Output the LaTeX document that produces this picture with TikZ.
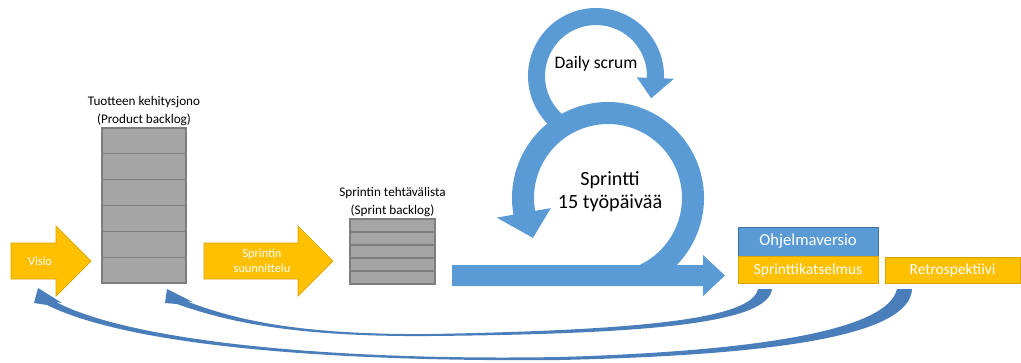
\documentclass[tikz,border=0pt]{standalone}
\usepackage{fontspec}
\setmainfont{Carlito}
\usetikzlibrary{positioning}
\usetikzlibrary{calc}
\definecolor{scrumblue}{HTML}{5B9BD5}
\definecolor{scrumblueline}{HTML}{41719C}
\definecolor{scrumyellow}{HTML}{FFC000}
\definecolor{scrumyellowline}{HTML}{D9A300}
\definecolor{backloggray}{HTML}{A5A5A5}
\definecolor{backlogline}{HTML}{7F7F7F}
\definecolor{returnblue}{HTML}{4A7EBB}
\tikzset{
  whitetext/.style={text=white, font=\fontsize{7}{8.5}\selectfont, align=center},
  lbl/.style={font=\fontsize{7.5}{10.2}\selectfont, align=center, inner sep=1pt},
  backlog/.style={draw=backlogline, fill=backloggray, line width=0.6pt, inner sep=0pt},
  resultbox/.style={line width=0.5pt, inner sep=0pt, text=white},
}

\begin{document}
\begin{tikzpicture}[x=0.02cm, y=-0.02cm]
\useasboundingbox (0,0) rectangle (1021,362);
% paluunuolet
\fill[returnblue] (758,289) .. controls (752,318) and (650,330) .. (430,334) .. controls (300,335) and (235,320) .. (186,301) -- (193,302) -- (167,289) -- (165,303) -- (177,304) .. controls (230,323) and (300,337) .. (430,336) .. controls (660,334) and (768,322) .. (772,289) -- cycle;
\fill[returnblue] (897,289) .. controls (888,330) and (760,351) .. (560,357) .. controls (330,361) and (130,341) .. (56,302) -- (62,303) -- (38,288) -- (34,303) -- (47,305) .. controls (130,346) and (330,362) .. (560,360) .. controls (780,355) and (910,335) .. (912,289) -- cycle;
% keltaiset nuolet
\filldraw[fill=scrumyellow, draw=scrumyellowline, line width=0.4pt] (11,243) -- (56,243) -- (56,226) -- (91,261) -- (56,296) -- (56,279) -- (11,279) -- cycle;
\node[whitetext] (visio) at (40,261) {Visio};
\filldraw[fill=scrumyellow, draw=scrumyellowline, line width=0.4pt] (204,243) -- (298,243) -- (298,226) -- (333,261) -- (298,296) -- (298,279) -- (204,279) -- cycle;
\node[whitetext] (suunnittelu) at (262,261) {Sprintin\\suunnittelu};
% tuotteen kehitysjono
\node[backlog, minimum width=1.68cm, minimum height=3.1cm] (pb) at (144,205.5) {};
\foreach \i in {1,...,5} {
\draw[backlogline, line width=0.6pt] (102,{128+\i*25.83}) -- (186,{128+\i*25.83});
}
\node[lbl, above=0pt of pb] (pblabel) {Tuotteen kehitysjono\\(Product backlog)};
% sprintin tehtavalista
\node[backlog, minimum width=1.7cm, minimum height=1.3cm] (sb) at (392.5,251.5) {};
\foreach \i in {1,...,4} {
\draw[backlogline, line width=0.6pt] (350,{219+\i*13}) -- (435,{219+\i*13});
}
\node[lbl, above=0pt of sb] (sblabel) {Sprintin tehtävälista\\(Sprint backlog)};
% daily scrum
\coordinate (dailyc) at (596,76);
\fill[scrumblue] ($(dailyc)+(125:68)$) arc[start angle=125, end angle=362, radius=68] -- ($(dailyc)+(362:78)$) -- ($(dailyc)+(22:59.5)$) -- ($(dailyc)+(362:41)$) -- ($(dailyc)+(362:51)$) arc[start angle=362, end angle=125, radius=51] -- cycle;
\node[font=\fontsize{10}{12}\selectfont] (daily) at (596,64) {Daily scrum};
% sprintti
\coordinate (sprintc) at (608,198);
\fill[scrumblue] ($(sprintc)+(64:96)$) arc[start angle=64, end angle=-190, radius=96] -- ($(sprintc)+(-190:113)$) -- ($(sprintc)+(-208:85)$) -- ($(sprintc)+(-190:58)$) -- ($(sprintc)+(-190:74)$) arc[start angle=-190, end angle=64, radius=74] -- cycle;
\node[font=\fontsize{11.5}{13}\selectfont, align=center] (sprintti) at (610,192) {Sprintti\\15 työpäivää};
\fill[scrumblue] (452,265) -- (703,265) -- (703,255) -- (725,275.5) -- (703,296) -- (703,286) -- (452,286) -- cycle;
% tulokset
\node[resultbox, draw=scrumblueline, fill=scrumblue, minimum width=2.8cm, minimum height=0.58cm, font=\fontsize{9.5}{11}\selectfont] (versio) at (808,241.5) {Ohjelmaversio};
\node[resultbox, draw=scrumyellowline, fill=scrumyellow, minimum width=2.8cm, minimum height=0.54cm, font=\fontsize{8.8}{10}\selectfont, below=0pt of versio] (katselmus) {Sprinttikatselmus};
\node[resultbox, draw=scrumyellowline, fill=scrumyellow, minimum width=2.7cm, minimum height=0.52cm, font=\fontsize{8.8}{10}\selectfont] (retro) at (952.5,270) {Retrospektiivi};
\end{tikzpicture}
\end{document}
